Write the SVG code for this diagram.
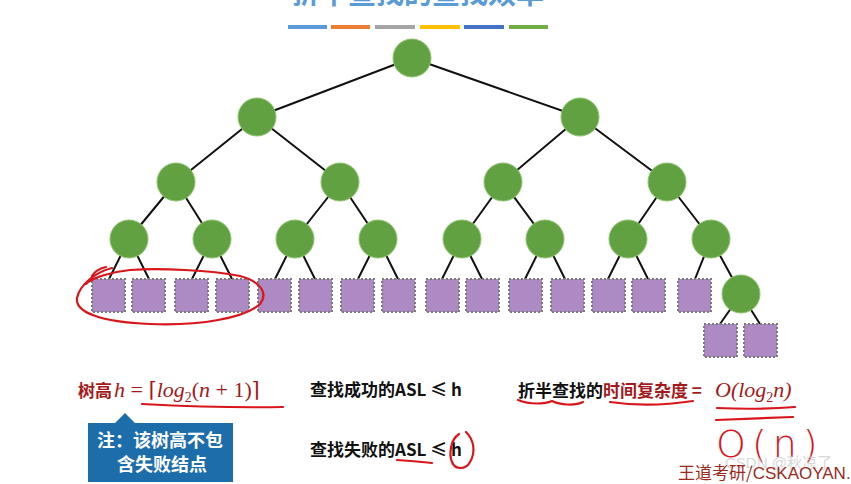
<svg xmlns="http://www.w3.org/2000/svg" width="851" height="484" viewBox="0 0 851 484">
<style>
.n{fill:#62a142;stroke:#8cc46e;stroke-width:1}
.l{fill:#ae8ac5;stroke:#7a7a7a;stroke-width:2;stroke-dasharray:2 2}
.e{stroke:#111;stroke-width:2;fill:none}
.cj{font-family:"Noto Sans CJK SC","Liberation Sans",sans-serif;font-weight:bold}
.m{font-family:"Liberation Serif",serif;font-style:italic}
.r{fill:#a3191c}
.hw{fill:none;stroke:#d8161b;stroke-width:2.2;stroke-linecap:round;stroke-linejoin:round}
</style>
<rect width="851" height="484" fill="#fff"/>
<g id="title">
<text x="418" y="4" text-anchor="middle" class="cj" font-size="28" fill="#5b9bd5">折半查找的查找效率</text>
<rect x="288" y="25" width="39" height="4" fill="#5b9bd5"/>
<rect x="331" y="25" width="39" height="4" fill="#ed7d31"/>
<rect x="375" y="25" width="40" height="4" fill="#a5a5a5"/>
<rect x="420" y="25" width="40" height="4" fill="#ffc000"/>
<rect x="464" y="25" width="40" height="4" fill="#4472c4"/>
<rect x="509" y="25" width="39" height="4" fill="#70ad47"/>
</g>
<g id="edges" class="e">
<path d="M412 58L257 117M412 58L580 117"/>
<path d="M257 117L176 182M257 117L340 182M580 117L503 182M580 117L667 182"/>
<path d="M176 182L129 239M176 182L212 239M340 182L295 239M340 182L378 239M503 182L462 239M503 182L545 239M667 182L628 239M667 182L711 239"/>
<path d="M129 239L109 279M129 239L149 279M212 239L192 279M212 239L232 279M295 239L275 279M295 239L315 279M378 239L358 279M378 239L398 279M462 239L442 279M462 239L482 279M545 239L525 279M545 239L565 279M628 239L608 279M628 239L648 279M711 239L695 279M711 239L741 294M741 294L720 324M741 294L760 324"/>
</g>
<g id="n1"><circle class="n" cx="412" cy="58" r="19"/></g>
<g id="n2"><circle class="n" cx="257" cy="117" r="19"/></g>
<g id="n3"><circle class="n" cx="580" cy="117" r="19"/></g>
<g id="n4"><circle class="n" cx="176" cy="182" r="19"/></g>
<g id="n5"><circle class="n" cx="340" cy="182" r="19"/></g>
<g id="n6"><circle class="n" cx="503" cy="182" r="19"/></g>
<g id="n7"><circle class="n" cx="667" cy="182" r="19"/></g>
<g id="n8"><circle class="n" cx="129" cy="239" r="19"/></g>
<g id="n9"><circle class="n" cx="212" cy="239" r="19"/></g>
<g id="n10"><circle class="n" cx="295" cy="239" r="19"/></g>
<g id="n11"><circle class="n" cx="378" cy="239" r="19"/></g>
<g id="n12"><circle class="n" cx="462" cy="239" r="19"/></g>
<g id="n13"><circle class="n" cx="545" cy="239" r="19"/></g>
<g id="n14"><circle class="n" cx="628" cy="239" r="19"/></g>
<g id="n15"><circle class="n" cx="711" cy="239" r="19"/></g>
<g id="n16"><circle class="n" cx="741" cy="294" r="19"/></g>
<g id="f1"><rect class="l" x="92" y="279" width="33" height="33"/></g>
<g id="f2"><rect class="l" x="132" y="279" width="33" height="33"/></g>
<g id="f3"><rect class="l" x="175" y="279" width="33" height="33"/></g>
<g id="f4"><rect class="l" x="216" y="279" width="33" height="33"/></g>
<g id="f5"><rect class="l" x="258" y="279" width="33" height="33"/></g>
<g id="f6"><rect class="l" x="299" y="279" width="33" height="33"/></g>
<g id="f7"><rect class="l" x="341" y="279" width="33" height="33"/></g>
<g id="f8"><rect class="l" x="382" y="279" width="33" height="33"/></g>
<g id="f9"><rect class="l" x="426" y="279" width="33" height="33"/></g>
<g id="f10"><rect class="l" x="466" y="279" width="33" height="33"/></g>
<g id="f11"><rect class="l" x="509" y="279" width="33" height="33"/></g>
<g id="f12"><rect class="l" x="551" y="279" width="33" height="33"/></g>
<g id="f13"><rect class="l" x="592" y="279" width="33" height="33"/></g>
<g id="f14"><rect class="l" x="632" y="279" width="33" height="33"/></g>
<g id="f15"><rect class="l" x="678" y="279" width="33" height="33"/></g>
<g id="f16"><rect class="l" x="704" y="324" width="33" height="33"/></g>
<g id="f17"><rect class="l" x="744" y="324" width="33" height="33"/></g>
<g id="height-text">
<text x="78" y="397" class="cj r" font-size="17">树高</text>
<text x="114" y="397" class="r" font-size="22" font-family="Liberation Serif,serif"><tspan font-style="italic">h</tspan> = <tspan font-family="DejaVu Serif,serif" font-size="21">⌈</tspan><tspan font-style="italic">log</tspan><tspan font-size="14" dy="5">2</tspan><tspan dy="-5">(</tspan><tspan font-style="italic">n</tspan> + 1)<tspan font-family="DejaVu Serif,serif" font-size="21">⌉</tspan></text>
</g>
<g id="note">
<path d="M88 423H115L125 413L135 423H233V482H88Z" fill="#1e6dab"/>
<text x="160" y="447" text-anchor="middle" class="cj" font-size="18" fill="#fff">注：该树高不包</text>
<text x="162" y="471" text-anchor="middle" class="cj" font-size="18" fill="#fff">含失败结点</text>
</g>
<g id="asl">
<text x="310" y="396" class="cj" font-size="17" fill="#111">查找成功的ASL ≤ h</text>
<text x="310" y="456" class="cj" font-size="17" fill="#111">查找失败的ASL ≤ h</text>
</g>
<g id="complexity">
<text x="518" y="397" class="cj" font-size="17" fill="#111">折半查找的<tspan class="r">时间复杂度</tspan><tspan fill="#a3191c"> =</tspan></text>
<text x="715" y="397" class="r" font-size="22" font-family="Liberation Serif,serif" font-style="italic">O(log<tspan font-size="14" font-style="normal" dy="5">2</tspan><tspan dy="-5">n)</tspan></text>
</g>
<g id="annotations">
<path class="hw" d="M106 267C100 268 94 272 92 276M112 268C96 272 80 284 77 298C75 312 100 322 150 324C200 326 245 318 260 304C268 294 262 282 240 276C210 270 160 268 130 270C110 272 92 278 86 284"/>
<path class="hw" d="M142 404C180 406 230 408 283 407"/>
<path class="hw" d="M397 460C410 461 422 462 432 463"/>
<path class="hw" d="M459 434C450 440 449 455 452 462C455 470 466 470 470 462C476 452 474 440 466 432"/>
<path class="hw" d="M518 400C530 405 545 404 552 401C560 405 575 406 583 402"/>
<path class="hw" d="M610 402C630 405 660 406 693 401"/>
<path class="hw" d="M717 408C740 409 770 409 795 407"/>
<path class="hw" d="M716 420C740 419 770 418 793 417"/>
<text x="716" y="457" font-family="DejaVu Sans,sans-serif" font-size="38" font-weight="300" fill="#d8161b" letter-spacing="6">O(n)</text>
</g>
<g id="watermark">
<text x="725" y="468" font-family="Liberation Sans,Noto Sans CJK SC,sans-serif" font-size="15" fill="#c8c8c8" opacity="0.7">CSDN @秋凉了</text>
<text x="678" y="479" font-family="Noto Sans CJK SC,sans-serif" font-size="17" fill="#9c2a1c">王道考研/<tspan font-family="Liberation Sans,sans-serif">CSKAOYAN.COM</tspan></text>
</g>
</svg>
